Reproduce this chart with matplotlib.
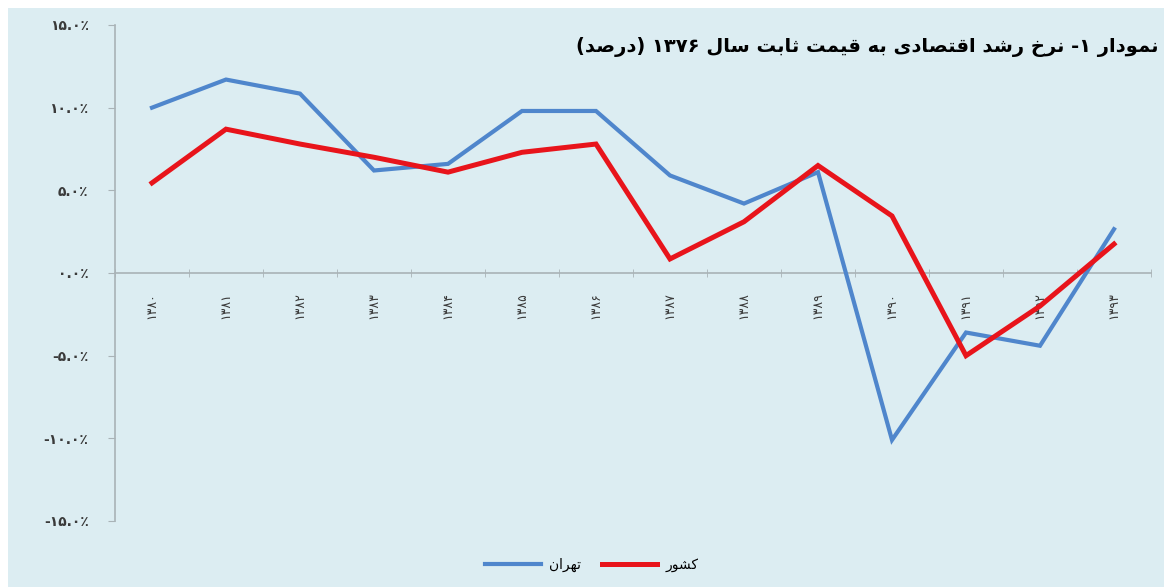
import matplotlib.pyplot as plt
import numpy as np
from matplotlib.patches import Rectangle

years = ['۱۳۸۰', '۱۳۸۱', '۱۳۸۲', '۱۳۸۳', '۱۳۸۴', '۱۳۸۵', '۱۳۸۶',
         '۱۳۸۷', '۱۳۸۸', '۱۳۸۹', '۱۳۹۰', '۱۳۹۱', '۱۳۹۲', '۱۳۹۳']
tehran = [10.0, 11.7, 10.85, 6.2, 6.6, 9.8, 9.8, 5.9, 4.2, 6.1, -10.1, -3.6, -4.4, 2.65]
country = [5.45, 8.7, 7.8, 7.0, 6.1, 7.3, 7.8, 0.85, 3.1, 6.5, 3.45, -5.0, -2.0, 1.75]
yticks = [-15, -10, -5, 0, 5, 10, 15]
ytick_labels = ['-۱۵.۰٪', '-۱۰.۰٪', '-۵.۰٪', '۰.۰٪', '۵.۰٪', '۱۰.۰٪', '۱۵.۰٪']
title = 'نمودار ۱- نرخ رشد اقتصادی به قیمت ثابت سال ۱۳۷۶ (درصد)'
names = ['تهران', 'کشور']

# matplotlib has no arabic shaping, so pick the presentation forms by hand
FORMS = {
    'ا': ('\uFE8D', '\uFE8E', None, None),
    'د': ('\uFEA9', '\uFEAA', None, None),
    'ر': ('\uFEAD', '\uFEAE', None, None),
    'و': ('\uFEED', '\uFEEE', None, None),
    'ب': ('\uFE8F', '\uFE90', '\uFE91', '\uFE92'),
    'ت': ('\uFE95', '\uFE96', '\uFE97', '\uFE98'),
    'ث': ('\uFE99', '\uFE9A', '\uFE9B', '\uFE9C'),
    'خ': ('\uFEA5', '\uFEA6', '\uFEA7', '\uFEA8'),
    'س': ('\uFEB1', '\uFEB2', '\uFEB3', '\uFEB4'),
    'ش': ('\uFEB5', '\uFEB6', '\uFEB7', '\uFEB8'),
    'ص': ('\uFEB9', '\uFEBA', '\uFEBB', '\uFEBC'),
    'ق': ('\uFED5', '\uFED6', '\uFED7', '\uFED8'),
    'ل': ('\uFEDD', '\uFEDE', '\uFEDF', '\uFEE0'),
    'م': ('\uFEE1', '\uFEE2', '\uFEE3', '\uFEE4'),
    'ن': ('\uFEE5', '\uFEE6', '\uFEE7', '\uFEE8'),
    'ه': ('\uFEE9', '\uFEEA', '\uFEEB', '\uFEEC'),
    'ی': ('\uFEEF', '\uFEF0', '\uFEF3', '\uFEF4'),
    'ک': ('\uFB8E', '\uFB8F', '\uFB90', '\uFB91'),
}
MIRROR = {'(': ')', ')': '('}


def rtl(s):
    out = []
    for i, c in enumerate(s):
        if c not in FORMS:
            out.append(MIRROR.get(c, c))
            continue
        prev = s[i - 1] if i > 0 else ''
        nxt = s[i + 1] if i + 1 < len(s) else ''
        jp = prev in FORMS and FORMS[prev][2] is not None
        jn = FORMS[c][2] is not None and nxt in FORMS
        iso, fin, ini, med = FORMS[c]
        out.append(med if jp and jn else fin if jp else ini if jn else iso)
    vis = out[::-1]
    # put digit runs back in left-to-right order
    res, run = [], []
    for c in vis:
        if '۰' <= c <= '۹':
            run.append(c)
        else:
            res.extend(run[::-1]); run = []
            res.append(c)
    res.extend(run[::-1])
    return ''.join(res)


plt.rcParams['font.family'] = ['DejaVu Sans']

blue = '#4f86cc'
red = '#e8141b'
bg = '#dcedf2'
grey = '#a9b3b7'

fig = plt.figure(figsize=(11.64, 5.87), dpi=100)
fig.patch.set_facecolor('white')
fig.patches.append(Rectangle((8 / 1164, 0), 1, 1 - 8 / 587, transform=fig.transFigure,
                             facecolor=bg, edgecolor='none', zorder=-10))
ax = fig.add_axes([115 / 1164, 1 - 521 / 587, (1151 - 115) / 1164, (521 - 25) / 587])
ax.set_facecolor('none')

x = np.arange(len(years))
ax.plot(x, tehran, color=blue, lw=3.0, solid_joinstyle='miter', label=rtl(names[0]), zorder=3)
ax.plot(x, country, color=red, lw=3.6, solid_joinstyle='miter', label=rtl(names[1]), zorder=4)

ax.set_xlim(-0.5, len(years) - 0.5)
ax.set_ylim(-15, 15)
ax.spines.right.set_visible(False)
ax.spines.top.set_visible(False)
ax.spines.bottom.set_position(('data', 0))
for s in ('left', 'bottom'):
    ax.spines[s].set_color(grey)
    ax.spines[s].set_linewidth(1.2)

ax.set_yticks(yticks)
ax.set_yticklabels(ytick_labels, fontsize=10, fontweight='bold', color='#3a3a3a')
ax.tick_params(axis='y', length=5, color=grey, pad=14)

ax.set_xticks(x)
ax.set_xticklabels(years, rotation=90, fontsize=9, color='#3a3a3a')
ax.set_xticks(np.arange(-0.5, len(years)), minor=True)
ax.tick_params(axis='x', which='major', length=0, pad=14)
ax.tick_params(axis='x', which='minor', length=6, direction='inout', color=grey)

fig.text(1158 / 1164, 1 - 47 / 587, rtl(title), ha='right', va='center',
         fontsize=14, fontweight='bold', color='black')

fig.legend(loc='center', bbox_to_anchor=(592 / 1164, 1 - 565 / 587), ncol=2,
           frameon=False, fontsize=10, handlelength=4, columnspacing=1.5, handletextpad=0.6)

fig.savefig('out.png', dpi=100, facecolor=fig.get_facecolor())
